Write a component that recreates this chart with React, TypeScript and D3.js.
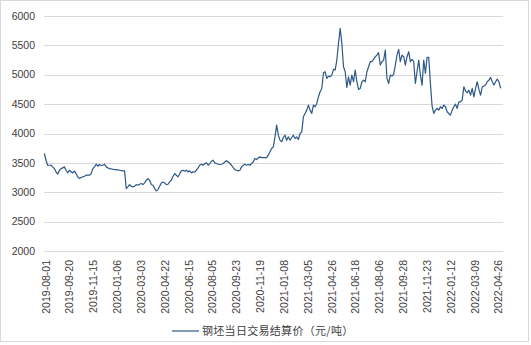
import React, { useEffect, useRef } from 'react';
import * as d3 from 'd3';

// 钢坯当日交易结算价 (元/吨), sampled along the trading-day axis
const priceValues = [
  3660, 3545, 3460, 3460, 3460, 3432, 3403, 3347, 3307, 3375, 3403, 3415, 3432, 3375, 3330, 3375,
  3347, 3330, 3358, 3318, 3261, 3233, 3250, 3261, 3273, 3290, 3290, 3290, 3318, 3403, 3432, 3477,
  3443, 3472, 3455, 3460, 3477, 3432, 3415, 3403, 3398, 3392, 3386, 3386, 3381, 3375, 3369, 3364,
  3364, 3063, 3091, 3131, 3102, 3091, 3102, 3131, 3119, 3136, 3148, 3131, 3159, 3205, 3233, 3205,
  3131, 3119, 3063, 3023, 3045, 3102, 3159, 3176, 3159, 3131, 3136, 3176, 3205, 3273, 3318, 3290,
  3261, 3318, 3364, 3375, 3358, 3375, 3347, 3364, 3330, 3347, 3347, 3375, 3415, 3460, 3477, 3460,
  3489, 3500, 3460, 3489, 3528, 3545, 3500, 3489, 3477, 3472, 3477, 3489, 3517, 3534, 3517, 3489,
  3460, 3420, 3386, 3375, 3364, 3375, 3432, 3460, 3477, 3460, 3472, 3460, 3489, 3517, 3574, 3557,
  3585,
  3602, 3590, 3590, 3590, 3590, 3631, 3688, 3744, 3773, 3943, 4142, 3972, 3886, 3858, 3932, 3972,
  3886, 3943, 3886, 3932, 3972, 3915, 3943, 3898, 4000, 4028, 4284, 4341, 4398, 4483, 4398, 4341,
  4483, 4455, 4511, 4625, 4710, 4767, 5034, 5051, 4938, 4977, 4966, 4994, 5091, 5080, 5250, 5534,
  5790, 5534, 5136, 5051, 4784, 4966, 4824, 4994, 4881, 5080, 4881, 4750, 4767, 4881, 4909, 4881,
  5051, 5136, 5222, 5222, 5261, 5307, 5335, 5375, 5165, 5222, 5250, 5420, 4938, 4852, 4994, 4977,
  5011, 5165, 5335, 5432, 5222, 5335, 5307, 5165, 5307, 5392, 5222, 5261, 5222, 4852, 5051, 5250,
  4994, 4824, 5250, 5023, 5296, 5296, 4852, 4466, 4341, 4398, 4426, 4398, 4455, 4426, 4483, 4455,
  4370, 4341, 4312, 4398, 4455, 4500, 4426, 4540, 4540, 4568, 4795, 4727, 4693, 4738, 4654, 4767,
  4625, 4767, 4881, 4750, 4654, 4795, 4807, 4824, 4881, 4909, 4955, 4881, 4824, 4881, 4926, 4881,
  4767,
];

const dateLabels = [
  '2019-08-01', '2019-09-20', '2019-11-15', '2020-01-06', '2020-03-03', '2020-04-22', '2020-06-15',
  '2020-08-05', '2020-09-23', '2020-11-19', '2021-01-08', '2021-03-05', '2021-04-26', '2021-06-18',
  '2021-08-06', '2021-09-28', '2021-11-23', '2022-01-12', '2022-03-09', '2022-04-26',
];

const yTicks = [2000, 2500, 3000, 3500, 4000, 4500, 5000, 5500, 6000];
const seriesName = '钢坯当日交易结算价（元/吨）';

const totalDays = 674;
const labelEvery = 35;

const App = () => {
  const svgRef = useRef<SVGSVGElement>(null);

  useEffect(() => {
    const width = 531;
    const height = 345;
    const margin = { top: 16, right: 28, bottom: 94, left: 44 };
    const plotW = width - margin.left - margin.right;
    const plotH = height - margin.top - margin.bottom;

    const svg = d3.select(svgRef.current);
    svg.selectAll('*').remove();

    svg.append('rect')
      .attr('x', 0.5).attr('y', 0.5)
      .attr('width', 528).attr('height', 341)
      .attr('fill', '#fff')
      .attr('stroke', '#d9d9d9');

    const g = svg.append('g').attr('transform', `translate(${margin.left},${margin.top})`);

    const step = plotW / totalDays;
    const xDay = d3.scaleLinear().domain([0, totalDays - 1]).range([step / 2, plotW - step / 2]);
    const xSample = d3.scaleLinear().domain([0, priceValues.length - 1]).range([0, totalDays - 4]);
    const y = d3.scaleLinear().domain([2000, 6000]).range([plotH, 0]);

    // grid lines
    g.selectAll('.grid')
      .data(yTicks)
      .enter().append('line')
      .attr('x1', 0).attr('x2', plotW)
      .attr('y1', d => Math.round(y(d)) + 0.5)
      .attr('y2', d => Math.round(y(d)) + 0.5)
      .attr('stroke', '#d9d9d9')
      .attr('stroke-width', 1);

    // y labels
    g.selectAll('.ylab')
      .data(yTicks)
      .enter().append('text')
      .attr('x', -9)
      .attr('y', d => y(d))
      .attr('dy', '0.35em')
      .attr('text-anchor', 'end')
      .style('font-family', '"Liberation Sans", Arial, sans-serif')
      .style('font-size', '10.5px')
      .attr('fill', '#404040')
      .text(d => d);

    // x labels
    g.selectAll('.xlab')
      .data(dateLabels)
      .enter().append('text')
      .attr('transform', (d, i) => `translate(${xDay(i * labelEvery) + 1.5},${plotH + 9}) rotate(-90)`)
      .attr('dy', '0.35em')
      .attr('text-anchor', 'end')
      .style('font-family', '"Liberation Sans", Arial, sans-serif')
      .style('font-size', '10.5px')
      .attr('fill', '#404040')
      .text(d => d);

    const line = d3.line<number>()
      .x((d, i) => xDay(xSample(i)))
      .y(d => y(d));

    g.append('path')
      .datum(priceValues)
      .attr('fill', 'none')
      .attr('stroke', '#2c5887')
      .attr('stroke-width', 1.2)
      .attr('stroke-linejoin', 'round')
      .attr('d', line);

    // legend
    const legend = svg.append('g').attr('transform', 'translate(172,331)');
    legend.append('line')
      .attr('x1', 0).attr('x2', 27)
      .attr('y1', 0).attr('y2', 0)
      .attr('stroke', '#2c5887')
      .attr('stroke-width', 1.2);
    legend.append('text')
      .attr('x', 30)
      .attr('y', 0)
      .attr('dy', '0.35em')
      .style('font-family', '"Noto Sans CJK SC", sans-serif')
      .style('font-size', '11px')
      .style('letter-spacing', '0.3px')
      .attr('fill', '#404040')
      .text(seriesName);
  }, []);

  return (
    <div style={{ position: 'fixed', left: 0, top: 0 }}>
      <svg ref={svgRef} width={531} height={345} style={{ display: 'block' }}></svg>
    </div>
  );
};

export default App;
